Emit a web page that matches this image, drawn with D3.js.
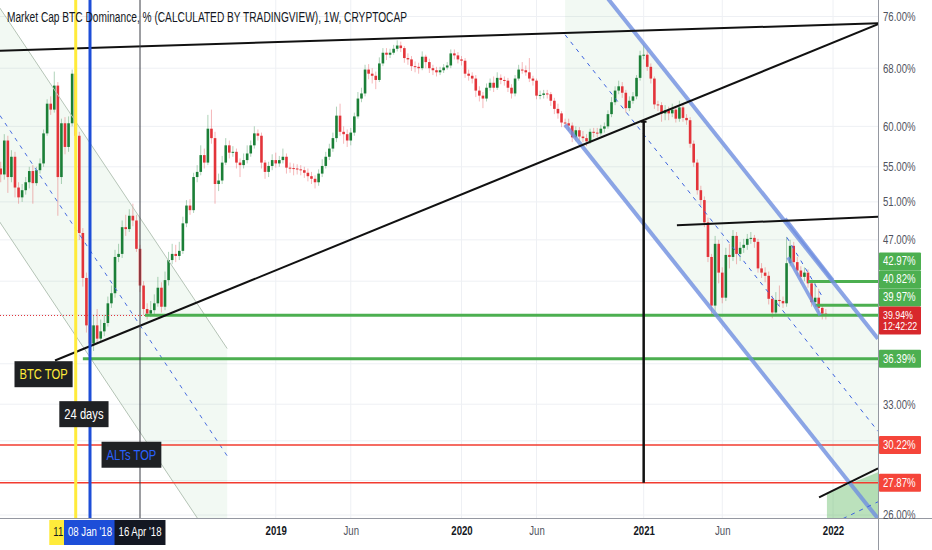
<!DOCTYPE html>
<html>
<head>
<meta charset="utf-8">
<script src="https://cdn.jsdelivr.net/npm/d3@7"></script>
<style>
  html, body { margin: 0; padding: 0; background: #fff; }
  svg { display: block; font-family: "Liberation Sans", Arial, sans-serif; }
</style>
</head>
<body>
<svg id="chart"></svg>
<script>
// weekly candles, bar 0 = week of 17 Jul 2017, open of each bar = previous close
const firstOpen = 54.8;
const closes = [
  54.1, 58.2, 53.8, 56.2, 52.6, 51.5, 52.3, 53.2, 54.5, 53.1,
  54.6, 55.4, 59.1, 63.0, 62.2, 65.5, 53.8, 60.4, 57.4, 60.4,
  67.2, 58.8, 47.7, 43.3, 39.1, 37.6, 39.1, 38.0, 38.6, 39.3,
  41.0, 41.9, 45.3, 45.6, 48.3, 48.1, 49.5, 49.0, 46.1, 42.6,
  40.5, 40.1, 40.4, 41.0, 42.4, 40.7, 43.1, 45.0, 45.6, 45.4,
  45.9, 48.7, 50.6, 50.1, 53.8, 54.4, 56.4, 55.5, 59.7, 58.5,
  53.0, 53.4, 55.5, 57.6, 56.7, 56.8, 55.5, 55.2, 55.8, 56.6,
  57.6, 59.1, 58.8, 55.5, 54.4, 55.1, 55.8, 55.4, 55.8, 56.2,
  54.9, 54.85, 54.8, 54.7, 54.6, 54.3, 53.9, 53.6, 53.2, 54.2,
  55.1, 56.2, 57.2, 58.5, 61.4, 59.3, 59.0, 58.2, 59.2, 61.3,
  63.7, 64.4, 67.8, 67.2, 66.9, 66.3, 68.7, 70.3, 70.0, 70.3,
  70.9, 71.4, 71.0, 69.5, 69.3, 68.3, 68.2, 68.0, 69.7, 68.9,
  68.0, 67.7, 67.4, 67.7, 68.1, 68.4, 70.2, 69.9, 69.3, 69.1,
  67.2, 66.9, 66.5, 64.8, 64.1, 63.7, 65.2, 65.9, 65.2, 66.6,
  66.3, 66.2, 65.2, 64.4, 66.5, 67.8, 67.7, 67.4, 66.5, 66.2,
  64.1, 64.2, 64.4, 64.3, 63.4, 62.3, 61.7, 60.5, 60.4, 60.1,
  58.6, 59.5, 58.7, 58.5, 58.1, 59.3, 59.2, 59.1, 59.7, 60.0,
  61.6, 63.2, 64.8, 65.4, 64.5, 62.4, 63.4, 64.0, 66.6, 69.9,
  70.0, 68.2, 66.5, 62.9, 62.8, 61.7, 62.1, 61.7, 62.2, 61.0,
  62.5, 61.1, 60.8, 57.8, 55.5, 52.3, 51.2, 48.8, 45.3, 40.8,
  46.6, 43.8, 41.5, 45.5, 45.3, 47.4, 45.6, 46.2, 46.5, 47.1,
  47.2, 46.8, 44.2, 43.8, 43.5, 41.4, 40.2, 41.3, 41.2, 41.0,
  44.7, 46.4, 44.8, 44.0, 43.4, 43.8, 42.8, 41.1, 41.5, 40.6,
  40.1, 39.94,
];
const highs = [
  55.6, 59.0, 58.8, 57.0, 56.8, 53.2, 53.0, 53.8, 55.0, 55.2,
  55.0, 56.0, 59.6, 63.6, 64.0, 67.5, 66.0, 61.0, 61.2, 61.3,
  67.8, 67.5, 59.3, 48.2, 43.8, 39.8, 40.0, 40.5, 39.6, 40.0,
  41.6, 42.6, 46.0, 46.6, 49.0, 49.6, 50.2, 50.8, 49.6, 46.5,
  43.0, 41.0, 41.2, 41.8, 43.4, 42.9, 43.9, 45.8, 46.6, 46.5,
  46.8, 49.4, 51.2, 51.3, 54.3, 55.2, 57.6, 57.2, 61.5, 62.2,
  59.3, 54.2, 56.3, 58.5, 58.2, 57.5, 57.2, 56.0, 56.6, 57.6,
  58.2, 60.0, 59.6, 59.2, 55.8, 55.6, 56.5, 56.7, 56.3, 57.2,
  56.6, 55.5, 55.4, 55.3, 55.2, 55.0, 54.8, 54.4, 54.0, 54.7,
  55.9, 56.8, 57.8, 59.2, 62.6, 63.0, 60.0, 59.6, 59.8, 61.8,
  64.6, 65.2, 68.5, 68.6, 68.0, 67.5, 69.6, 71.0, 71.0, 70.9,
  71.5, 72.2, 72.0, 71.3, 70.2, 69.8, 69.0, 68.8, 70.5, 70.0,
  69.4, 68.5, 68.2, 68.2, 68.6, 68.9, 70.8, 70.8, 70.4, 69.8,
  69.5, 67.8, 67.4, 67.0, 65.4, 64.6, 65.8, 66.5, 66.8, 67.4,
  67.1, 66.8, 66.6, 65.7, 67.0, 68.5, 68.9, 68.4, 69.5, 66.9,
  66.5, 64.8, 64.9, 64.9, 64.6, 63.8, 63.0, 62.0, 61.0, 61.0,
  60.5, 60.0, 59.9, 59.4, 59.0, 59.7, 59.8, 59.8, 60.2, 60.5,
  62.1, 63.9, 65.4, 66.2, 66.0, 64.9, 64.0, 64.6, 67.0, 70.6,
  71.5, 70.7, 68.7, 66.8, 63.4, 63.2, 62.8, 62.6, 63.0, 62.6,
  63.4, 62.9, 61.6, 61.2, 58.2, 55.9, 52.8, 51.6, 49.3, 45.6,
  47.4, 47.0, 44.3, 46.2, 46.6, 48.0, 47.8, 46.8, 47.1, 47.6,
  47.8, 47.5, 47.1, 44.7, 44.3, 43.9, 41.7, 42.0, 42.6, 41.6,
  47.3, 47.0, 46.8, 45.3, 44.4, 44.3, 44.1, 43.1, 43.0, 42.3,
  40.9, 40.5,
];
const lows = [
  53.2, 53.5, 52.0, 53.2, 51.5, 50.8, 51.0, 51.8, 52.5, 50.8,
  52.8, 54.2, 55.0, 58.8, 61.5, 61.8, 49.5, 53.0, 56.5, 56.8,
  60.0, 57.5, 47.0, 42.5, 38.5, 37.0, 37.0, 37.6, 37.7, 38.2,
  39.0, 40.6, 41.5, 44.8, 45.2, 47.4, 47.8, 48.4, 45.8, 42.0,
  40.0, 39.6, 39.8, 40.0, 40.7, 40.2, 40.4, 42.6, 44.6, 44.8,
  45.0, 45.6, 48.3, 49.6, 49.8, 53.2, 54.0, 54.8, 55.2, 57.8,
  50.8, 52.2, 53.0, 55.2, 56.0, 56.2, 54.8, 53.8, 54.8, 55.4,
  56.2, 57.2, 58.2, 54.8, 53.6, 53.8, 54.6, 54.9, 55.0, 55.4,
  54.2, 54.3, 54.0, 54.1, 54.0, 53.7, 53.3, 53.0, 52.5, 52.8,
  53.8, 54.8, 55.8, 56.8, 58.0, 58.8, 57.8, 57.4, 57.6, 58.8,
  61.0, 63.2, 64.0, 66.4, 65.8, 65.0, 66.0, 68.3, 69.2, 69.5,
  70.0, 70.5, 70.4, 68.8, 68.5, 67.6, 67.4, 67.2, 67.7, 68.0,
  67.3, 67.0, 66.8, 67.0, 67.3, 67.8, 68.0, 69.3, 68.7, 68.4,
  66.6, 66.2, 65.8, 63.9, 63.3, 62.4, 63.3, 64.8, 64.6, 64.9,
  65.7, 65.5, 64.6, 63.7, 64.0, 66.2, 67.2, 66.9, 66.0, 65.5,
  63.6, 63.6, 63.7, 63.7, 62.7, 61.6, 61.0, 59.9, 59.8, 59.4,
  58.0, 58.1, 58.2, 58.0, 57.5, 57.8, 58.6, 58.6, 58.8, 59.2,
  59.7, 61.2, 62.8, 64.3, 63.8, 61.8, 62.0, 63.0, 63.6, 66.2,
  69.3, 67.6, 65.8, 62.3, 62.0, 60.6, 60.8, 60.8, 61.2, 60.5,
  60.6, 60.6, 60.2, 57.3, 55.0, 51.8, 50.6, 48.3, 44.8, 39.9,
  40.3, 42.8, 41.0, 41.2, 44.2, 44.9, 44.6, 44.9, 45.7, 46.0,
  46.6, 46.2, 43.8, 43.3, 42.9, 40.9, 39.7, 39.9, 40.7, 40.6,
  40.7, 44.4, 44.3, 43.5, 42.8, 43.0, 42.4, 40.7, 40.8, 40.2,
  39.6, 39.6,
];

// axes
const timeTickBars = [77, 98, 129, 150, 180, 202, 233];
const timeTickLabels = ['2019', 'Jun', '2020', 'Jun', '2021', 'Jun', '2022'];
const gridTicks = [76, 68, 60, 55, 51, 47, 43, 40, 36, 33, 30.5, 28, 26];
const labelTicks = [76, 68, 60, 55, 51, 47, 33, 26]; // the rest sit under the level labels

// levels: [value, first bar]
const greenLevels = [[42.97, 226], [40.82, 228], [39.97, 40.4], [36.39, 23]];
const redLevels = [30.22, 27.87];
const lastPrice = 39.94;
const countdown = '12:42:22';

// drawings, endpoints as [bar, value]
const blackLines = [
  [[-0.2, 70.6], [245.6, 74.9]],
  [[15.2, 36.25], [245.6, 74.75]],
  [[189.3, 48.5], [245.6, 49.4]],
  [[229.1, 27.0], [245.6, 28.75]],
];
const leftChannel = {
  upper: [[-3, 79.9], [63.4, 37.2]],
  lower: [[-3, 50.4], [63.4, 23.46]],
  mid: [[-3, 63.43], [63.4, 29.53]],
};
const bigChannel = {
  upper: [[158.0, 88.7], [245.6, 38.0]],
  lower: [[158.0, 60.2], [245.6, 25.8]],
  mid: [[158.0, 73.07], [245.6, 31.13]],
};
const smallChannel = [
  [[219.6, 49.2], [233.0, 43.07]],
  [[220.4, 45.26], [229.4, 39.95]],
];
const blueDashed = [
  [[220.1, 47.25], [230.0, 41.6]],
  [[235.8, 25.8], [245.6, 26.75]],
];
const targetZone = [[231.3, 27.25], [245.6, 28.5], [245.6, 25.0], [231.3, 25.0]];

// vertical markers: [bar, colour, width]
const markers = [[39, '#3a3d45', 1], [21, '#ffeb3b', 3], [25, '#1d4ed8', 3]];
const timeMarks = [
  [21, "11 Dec '17", '#ffeb3b', '#131722'],
  [25, "08 Jan '18", '#1d4ed8', '#ffffff'],
  [39, "16 Apr '18", '#131722', '#ffffff'],
];
const notes = [
  [12.0, 35.2, 'BTC TOP', '#ffeb3b'],
  [23.3, 32.3, '24 days', '#ffffff'],
  [36.6, 29.6, 'ALTs TOP', '#2962ff'],
];

const width = 932;
const height = 550;
const plotW = 878;
const plotH = 518;
const narrow = 0.8; // squeeze text to mimic the chart's condensed face

const svg = d3.select('#chart').attr('width', width).attr('height', height);
svg.append('rect').attr('width', width).attr('height', height).attr('fill', '#ffffff');

const x = d3.scaleLinear().domain([0, 233]).range([0.7, 833]);
const y = d3.scaleLog().domain([26, 76]).range([515, 16.5]);
const line = d3.line().x((d) => x(d[0])).y((d) => y(d[1]));

// condense a text node horizontally, returns the new width
function squeeze(sel) {
  let w = 0;
  sel.each(function () {
    w = this.getComputedTextLength() * narrow;
    d3.select(this).attr('textLength', w).attr('lengthAdjust', 'spacingAndGlyphs');
  });
  return w;
}

svg.append('clipPath').attr('id', 'plot-clip')
  .append('rect').attr('width', plotW).attr('height', plotH);
const plot = svg.append('g').attr('clip-path', 'url(#plot-clip)');

// grid
plot.selectAll('.hgrid').data(gridTicks).join('line')
  .attr('x1', 0).attr('x2', plotW)
  .attr('y1', (d) => y(d)).attr('y2', (d) => y(d))
  .attr('stroke', '#eef0f4');
plot.selectAll('.vgrid').data(timeTickBars).join('line')
  .attr('x1', (d) => x(d)).attr('x2', (d) => x(d))
  .attr('y1', 0).attr('y2', plotH)
  .attr('stroke', '#eef0f4');

// channel fills
const channelFill = (c) => line([c.upper[0], c.upper[1], c.lower[1], c.lower[0]]) + 'Z';
plot.append('path').attr('d', channelFill(leftChannel)).attr('fill', 'rgba(76,175,80,0.07)');
plot.append('path').attr('d', channelFill(bigChannel)).attr('fill', 'rgba(76,175,80,0.07)');
plot.append('path').attr('d', line(targetZone) + 'Z').attr('fill', 'rgba(76,175,80,0.38)');

// candles
const candles = closes.map((c, i) => ({
  i, o: i === 0 ? firstOpen : closes[i - 1], c, h: highs[i], l: lows[i],
}));
const upColor = '#1b7f37';
const downColor = '#e3343a';
const candleG = plot.append('g');
candleG.selectAll('.wick').data(candles).join('line')
  .attr('x1', (d) => x(d.i)).attr('x2', (d) => x(d.i))
  .attr('y1', (d) => y(d.h)).attr('y2', (d) => y(d.l))
  .attr('stroke', (d) => (d.c >= d.o ? upColor : downColor))
  .attr('stroke-opacity', 0.35)
  .attr('stroke-width', 1);
candleG.selectAll('.body').data(candles).join('rect')
  .attr('x', (d) => x(d.i) - 1.3)
  .attr('width', 2.6)
  .attr('y', (d) => y(Math.max(d.o, d.c)))
  .attr('height', (d) => Math.max(1, Math.abs(y(d.o) - y(d.c))))
  .attr('fill', (d) => (d.c >= d.o ? upColor : downColor));

// left channel borders
plot.append('path').attr('d', line(leftChannel.upper)).attr('stroke', '#b5c4b6').attr('fill', 'none');
plot.append('path').attr('d', line(leftChannel.lower)).attr('stroke', '#b5c4b6').attr('fill', 'none');
plot.append('path').attr('d', line(leftChannel.mid)).attr('stroke', '#4a6ee0')
  .attr('stroke-dasharray', '4,5').attr('fill', 'none');

// horizontal levels
plot.append('line')
  .attr('x1', 0).attr('x2', plotW).attr('y1', y(lastPrice)).attr('y2', y(lastPrice))
  .attr('stroke', '#e3343a').attr('stroke-dasharray', '1,2').attr('stroke-width', 1);
plot.selectAll('.red-level').data(redLevels).join('line')
  .attr('x1', 0).attr('x2', plotW)
  .attr('y1', (d) => y(d)).attr('y2', (d) => y(d))
  .attr('stroke', '#f23b2f').attr('stroke-width', 1.5);
plot.selectAll('.green-level').data(greenLevels).join('line')
  .attr('x1', (d) => x(d[1])).attr('x2', plotW)
  .attr('y1', (d) => y(d[0])).attr('y2', (d) => y(d[0]))
  .attr('stroke', '#4caf50').attr('stroke-width', 3);

// big channel + small channel
['upper', 'lower'].forEach((k) => {
  plot.append('path').attr('d', line(bigChannel[k]))
    .attr('stroke', '#6f8fe0').attr('stroke-opacity', 0.8).attr('stroke-width', 4)
    .attr('fill', 'none');
});
plot.append('path').attr('d', line(bigChannel.mid)).attr('stroke', '#3d63e0')
  .attr('stroke-dasharray', '4,5').attr('fill', 'none');
smallChannel.forEach((s) => {
  plot.append('path').attr('d', line(s))
    .attr('stroke', '#6f8fe0').attr('stroke-opacity', 0.8).attr('stroke-width', 3.5)
    .attr('fill', 'none');
});
blueDashed.forEach((s) => {
  plot.append('path').attr('d', line(s)).attr('stroke', '#3d63e0')
    .attr('stroke-dasharray', '4,5').attr('fill', 'none');
});

// trend lines
blackLines.forEach((s) => {
  plot.append('path').attr('d', line(s)).attr('stroke', '#111').attr('stroke-width', 2).attr('fill', 'none');
});
plot.append('line')
  .attr('x1', x(180)).attr('x2', x(180)).attr('y1', y(60.6)).attr('y2', y(27.87))
  .attr('stroke', '#111').attr('stroke-width', 2.5);
plot.append('line')
  .attr('x1', x(179.2)).attr('x2', x(180.8)).attr('y1', y(60.6)).attr('y2', y(60.6))
  .attr('stroke', '#111').attr('stroke-width', 2);

// vertical markers
plot.selectAll('.marker').data(markers).join('line')
  .attr('x1', (d) => x(d[0])).attr('x2', (d) => x(d[0]))
  .attr('y1', 0).attr('y2', plotH)
  .attr('stroke', (d) => d[1]).attr('stroke-width', (d) => d[2]);

// notes
notes.forEach(([bar, val, text, color]) => {
  const g = plot.append('g').attr('transform', `translate(${x(bar)},${y(val)})`);
  const t = g.append('text').attr('text-anchor', 'middle').attr('dy', '0.36em')
    .attr('font-size', 14).attr('fill', color).text(text);
  const w = squeeze(t) + 10;
  g.insert('rect', 'text').attr('x', -w / 2).attr('y', -13).attr('width', w).attr('height', 26)
    .attr('fill', '#1f2124');
});

// title
svg.append('text').attr('x', 7).attr('y', 22).attr('font-size', 14).attr('fill', '#131722')
  .attr('textLength', 400).attr('lengthAdjust', 'spacingAndGlyphs')
  .text('Market Cap BTC Dominance, % (CALCULATED BY TRADINGVIEW), 1W, CRYPTOCAP');

// borders
svg.append('line').attr('x1', plotW + 0.5).attr('x2', plotW + 0.5).attr('y1', 0).attr('y2', height)
  .attr('stroke', '#9598a1');
svg.append('line').attr('x1', 0).attr('x2', width).attr('y1', plotH + 0.5).attr('y2', plotH + 0.5)
  .attr('stroke', '#9598a1');

// price axis
const yAxis = svg.append('g').attr('transform', `translate(${plotW},0)`)
  .call(d3.axisRight(y).tickValues(labelTicks).tickSize(0).tickPadding(5)
    .tickFormat((d) => `${d.toFixed(2)}%`));
yAxis.select('.domain').remove();
yAxis.selectAll('text').attr('font-size', 12).attr('fill', '#50535e')
  .attr('font-family', '"Liberation Sans", Arial, sans-serif')
  .each(function () { squeeze(d3.select(this)); });

// time axis
const xAxis = svg.append('g').attr('transform', `translate(0,${plotH})`)
  .call(d3.axisBottom(x).tickValues(timeTickBars).tickSize(0).tickPadding(8)
    .tickFormat((d, i) => timeTickLabels[i]));
xAxis.select('.domain').remove();
xAxis.selectAll('text').attr('font-size', 12)
  .attr('font-family', '"Liberation Sans", Arial, sans-serif')
  .attr('font-weight', (d, i) => (timeTickLabels[i] === 'Jun' ? 'normal' : 'bold'))
  .attr('fill', (d, i) => (timeTickLabels[i] === 'Jun' ? '#50535e' : '#131722'))
  .each(function () { squeeze(d3.select(this)); });

// time marker labels
timeMarks.forEach(([bar, text, fill, color]) => {
  const g = svg.append('g').attr('transform', `translate(${x(bar)},${plotH + 14})`);
  const t = g.append('text').attr('text-anchor', 'middle').attr('dy', '0.36em')
    .attr('font-size', 12).attr('fill', color).text(text);
  const w = squeeze(t) + 8;
  g.insert('rect', 'text').attr('x', -w / 2).attr('y', -12).attr('width', w).attr('height', 25)
    .attr('fill', fill);
});

// price axis labels, stacked upwards so they do not overlap
const axisLabels = [
  { value: 42.97, fill: '#4caf50', lines: ['42.97%'] },
  { value: 40.82, fill: '#4caf50', lines: ['40.82%'] },
  { value: 39.97, fill: '#4caf50', lines: ['39.97%'] },
  { value: lastPrice, fill: '#d8282c', lines: [`${lastPrice.toFixed(2)}%`, countdown] },
  { value: 36.39, fill: '#4caf50', lines: ['36.39%'] },
  { value: redLevels[0], fill: '#f5453a', lines: [`${redLevels[0].toFixed(2)}%`] },
  { value: redLevels[1], fill: '#f5453a', lines: [`${redLevels[1].toFixed(2)}%`] },
];
const placed = axisLabels.map((d) => ({ ...d, cy: y(d.value), h: 18 + 10 * (d.lines.length - 1) }))
  .sort((a, b) => b.cy - a.cy);
let limit = Infinity;
placed.forEach((d) => {
  d.cy = Math.min(d.cy, limit + 9 - d.h);
  limit = d.cy - 9;
});
const labelG = svg.append('g');
placed.filter((d) => d.value !== lastPrice).concat(placed.filter((d) => d.value === lastPrice))
  .forEach((d) => {
    labelG.append('rect').attr('x', plotW + 1).attr('y', d.cy - 9).attr('width', 42).attr('height', d.h)
      .attr('rx', 1).attr('fill', d.fill);
    d.lines.forEach((s, k) => {
      const t = labelG.append('text').attr('x', plotW + 5).attr('y', d.cy + k * 11).attr('dy', '0.33em')
        .attr('font-size', d.lines.length > 1 ? 11 : 12).attr('fill', '#ffffff').text(s);
      squeeze(t);
    });
  });
</script>
</body>
</html>
